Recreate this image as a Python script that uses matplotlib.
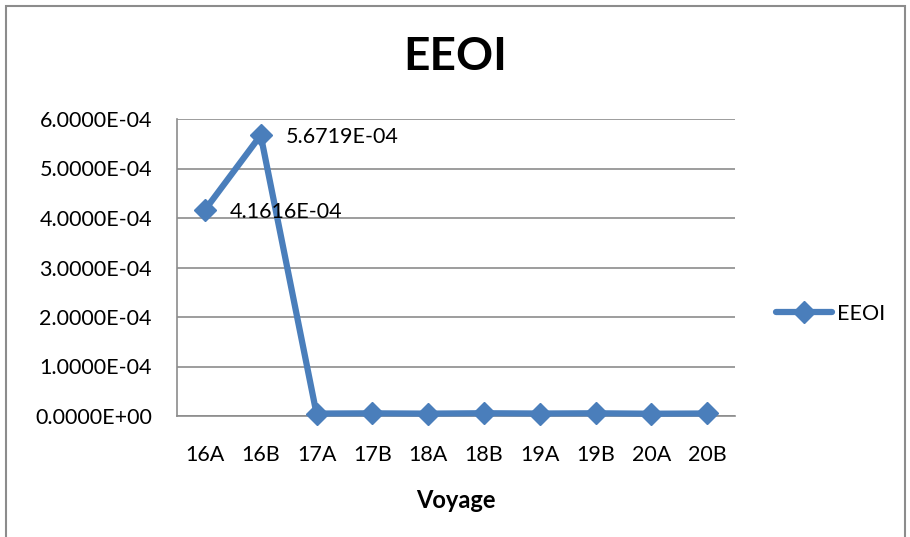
import matplotlib.pyplot as plt
import matplotlib.patches as patches
from matplotlib.ticker import FuncFormatter

voyages = ["16A", "16B", "17A", "17B", "18A", "18B", "19A", "19B", "20A", "20B"]
eeoi = [4.1616e-04, 5.6719e-04, 4.9e-06, 5.4e-06, 4.8e-06, 5.6e-06,
        5.0e-06, 5.5e-06, 4.6e-06, 5.1e-06]
labelled = [0, 1]  # points that carry a value label

plt.rcParams['font.family'] = ['Lato', 'DejaVu Sans']
blue = "#4A7EBB"
fs = 15.5

fig = plt.figure(figsize=(9.1, 5.37), dpi=100)
ax = fig.add_axes([177/910, 1 - 416/537, (735 - 177)/910, (416 - 119)/537])

x = list(range(len(voyages)))
ax.plot(x, eeoi, color=blue, linewidth=4.5, marker="D", markersize=11,
        label="EEOI", solid_capstyle="round", zorder=3, clip_on=False)

for i in labelled:
    ax.annotate(f"{eeoi[i]:.4E}", (x[i], eeoi[i]), xytext=(25, -2),
                textcoords="offset pixels", va="center", ha="left", fontsize=fs)

ax.set_xlim(-0.5, len(voyages) - 0.5)
ax.set_ylim(0, 6e-4)
ax.set_yticks([i * 1e-4 for i in range(7)])
ax.yaxis.set_major_formatter(FuncFormatter(lambda v, p: f"{v:.4E}"))
ax.set_xticks(x)
ax.set_xticklabels(voyages)
ax.tick_params(length=0, labelsize=fs)
ax.tick_params(axis="x", pad=21)
ax.tick_params(axis="y", pad=18)

ax.grid(axis="y", color="#8c8c8c", linewidth=1.2)
ax.set_axisbelow(True)
for side in ["top", "right"]:
    ax.spines[side].set_visible(False)
for side in ["left", "bottom"]:
    ax.spines[side].set_color("#8c8c8c")
    ax.spines[side].set_linewidth(1.2)

ax.set_xlabel("Voyage", fontsize=17, fontweight="bold", labelpad=17)
fig.text(0.5, 1 - 57/537, "EEOI", fontsize=33, fontweight="bold",
         ha="center", va="center")

fig.legend(loc="center left", bbox_to_anchor=(757/910, 1 - 314/537), frameon=False,
           fontsize=fs, handlelength=2.6, handletextpad=0.2)

# outer chart border
fig.patches.append(patches.Rectangle((6/910, -0.1), (905 - 6)/910, 1.1 - 6/537,
                                     transform=fig.transFigure, fill=False,
                                     edgecolor="#8c8c8c", linewidth=1.5))

fig.savefig("out.png", dpi=100)
